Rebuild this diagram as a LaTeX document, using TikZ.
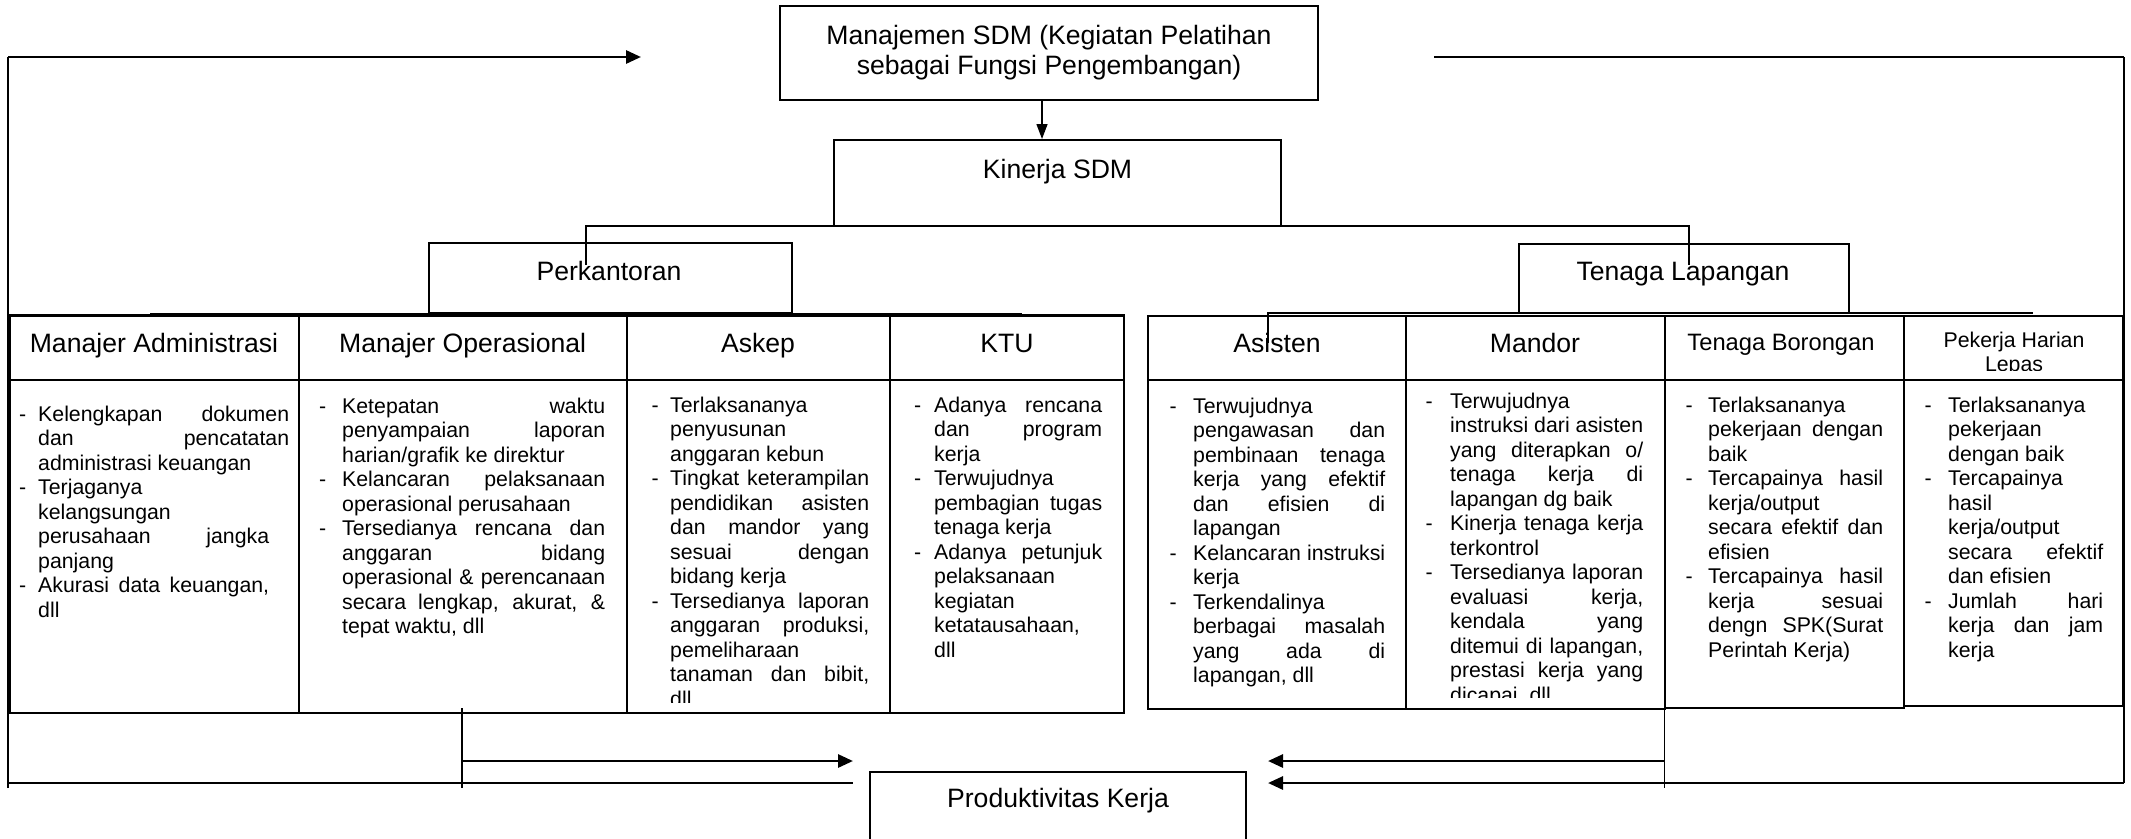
\documentclass[tikz,border=0pt]{standalone}
\usepackage{fontspec}
\setmainfont{Liberation Sans}
\usetikzlibrary{arrows.meta,fit}
\newlength\dw \newlength\cw
\newcommand\colset[2]{\global\dw=#1pt\global\cw=#2pt\relax}
\newcommand\setcw[1]{\global\cw=#1pt\relax}
\newcommand\bulN[1]{\makebox[\dw][l]{-}#1}
\newcommand\bulJ[1]{\makebox[\dw][l]{-}\makebox[\cw][s]{#1}}
\newcommand\lnJ[1]{\hspace*{\dw}\makebox[\cw][s]{#1}}
\newcommand\lnN[1]{\hspace*{\dw}#1}
\newcommand\fbig{\fontsize{26.6}{30.6}\selectfont}
\newcommand\fmid{\fontsize{23.7}{27}\selectfont}
\newcommand\fbody{\fontsize{21.3}{24.5}\selectfont}
\begin{document}
\begin{tikzpicture}[x=1pt,y=-1pt,
  box/.style={draw,line width=2pt,inner sep=0pt},
  cell/.style={draw,line width=2pt,inner sep=0pt},
  lnk/.style={line width=2.2pt},
  thinln/.style={line width=1.4pt},
  fb/.style={line width=2.8pt},
  tip/.style={-{Triangle[length=15pt,width=13pt]}},
  big/.style={font=\fbig,inner sep=0pt,anchor=base},
  col/.style={font=\fbody,inner sep=0pt,anchor=base west,align=left},
]
\useasboundingbox (0,0) rectangle (2131,838);
\clip (0,0) rectangle (2131,838);

% ---------- main boxes ----------
\node[box,fit={(780,6) (1318,100)}] (mgmt) {};
\node[big] (mgmt-t1) at (1049,44) {Manajemen SDM (Kegiatan Pelatihan};
\node[big] (mgmt-t2) at (1049,74) {sebagai Fungsi Pengembangan)};

\node[box,fit={(834,140) (1281,225.5)}] (kin) {};
\node[big] (kin-t) at (1057.5,178) {Kinerja SDM};

\node[box,fit={(429,243) (792,313)}] (perk) {};
\node[big] (perk-t) at (609,280) {Perkantoran};

\node[box,fit={(1519,244) (1849,313)}] (tl) {};
\node[big] (tl-t) at (1683,280) {Tenaga Lapangan};

\node[box,fit={(870,772) (1246,870)}] (prod) {};
\node[big] (prod-t) at (1058,807) {Produktivitas Kerja};

% ---------- left table ----------
\node[cell,fit={(9.5,316) (299,380)}] (hAdm) {};
\node[cell,fit={(299,316) (626.5,380)}] (hOps) {};
\node[cell,fit={(626.5,316) (890,380)}] (hAsk) {};
\node[cell,fit={(890,316) (1124,380)}] (hKtu) {};
\node[cell,fit={(9.5,380) (299,713)}] (cAdm) {};
\node[cell,fit={(299,380) (626.5,713)}] (cOps) {};
\node[cell,fit={(626.5,380) (890,713)}] (cAsk) {};
\node[cell,fit={(890,380) (1124,713)}] (cKtu) {};
\draw[line width=2.8pt] (hAdm.north west) -- (hKtu.north east);

\node[big] (hAdm-t) at (154,352) {Manajer Administrasi};
\node[big] (hOps-t) at (462.7,352) {Manajer Operasional};
\node[big] (hAsk-t) at (758,352) {Askep};
\node[big] (hKtu-t) at (1007,352) {KTU};

% ---------- right table ----------
\node[cell,fit={(1148,316) (1406,380)}] (hAsi) {};
\node[cell,fit={(1406,316) (1664.5,380)}] (hMan) {};
\node[cell,fit={(1664.5,316) (1904,380)}] (hTB) {};
\node[cell,fit={(1904,316) (2123,380)}] (hPHL) {};
\node[cell,fit={(1148,380) (1406,709)}] (cAsi) {};
\node[cell,fit={(1406,380) (1664.5,709)}] (cMan) {};
\node[cell,fit={(1664.5,380) (1904,708)}] (cTB) {};
\node[cell,fit={(1904,380) (2123,706)}] (cPHL) {};

\node[big] (hAsi-t) at (1277,352) {Asisten};
\node[big] (hMan-t) at (1535,352) {Mandor};
\node[big,font=\fmid] (hTB-t) at (1781,350) {Tenaga Borongan};
\begin{scope}
\clip (1904,316) rectangle (2123,370);
\node[font=\fbody,inner sep=0pt,anchor=base,align=center] (hPHL-t) at (2014,{347+24.5}) {Pekerja Harian\\Lepas};
\end{scope}

% ---------- body texts (anchor = baseline of the last line) ----------
\colset{19}{251}
\node[col] (bAdm) at (19,{421+8*24.5}) {\bulJ{Kelengkapan dokumen}\\ \lnJ{dan pencatatan}\\ \lnN{administrasi keuangan}\\ \bulN{Terjaganya}\\ \lnN{kelangsungan}\\ \setcw{231}\lnJ{perusahaan jangka}\\ \lnN{panjang}\\ \setcw{231}\bulJ{Akurasi data keuangan,}\\ \lnN{dll}};

\colset{23}{263}
\node[col] (bOps) at (319,{413+9*24.5}) {\bulJ{Ketepatan waktu}\\ \lnJ{penyampaian laporan}\\ \lnN{harian/grafik ke direktur}\\ \bulJ{Kelancaran pelaksanaan}\\ \lnN{operasional perusahaan}\\ \bulJ{Tersedianya rencana dan}\\ \lnJ{anggaran bidang}\\ \lnJ{operasional \& perencanaan}\\ \lnJ{secara lengkap, akurat, \&}\\ \lnN{tepat waktu, dll}};

\colset{18.5}{199}
\begin{scope}
\clip (626.5,380) rectangle (890,702);
\node[col] (bAsk) at (651.5,{412+12*24.5}) {\bulN{Terlaksananya}\\ \lnN{penyusunan}\\ \lnN{anggaran kebun}\\ \bulJ{Tingkat keterampilan}\\ \lnJ{pendidikan asisten}\\ \lnJ{dan mandor yang}\\ \lnJ{sesuai dengan}\\ \lnN{bidang kerja}\\ \bulJ{Tersedianya laporan}\\ \lnJ{anggaran produksi,}\\ \lnN{pemeliharaan}\\ \lnJ{tanaman dan bibit,}\\ \lnN{dll}};
\end{scope}

\colset{20}{168}
\node[col] (bKtu) at (914,{412+10*24.5}) {\bulJ{Adanya rencana}\\ \lnJ{dan program}\\ \lnN{kerja}\\ \bulN{Terwujudnya}\\ \lnJ{pembagian tugas}\\ \lnN{tenaga kerja}\\ \bulJ{Adanya petunjuk}\\ \lnN{pelaksanaan}\\ \lnN{kegiatan}\\ \lnN{ketatausahaan,}\\ \lnN{dll}};

\colset{23.5}{192}
\node[col] (bAsi) at (1169.5,{413+11*24.5}) {\bulN{Terwujudnya}\\ \lnJ{pengawasan dan}\\ \lnJ{pembinaan tenaga}\\ \lnJ{kerja yang efektif}\\ \lnJ{dan efisien di}\\ \lnN{lapangan}\\ \bulJ{Kelancaran instruksi}\\ \lnN{kerja}\\ \bulN{Terkendalinya}\\ \lnJ{berbagai masalah}\\ \lnJ{yang ada di}\\ \lnN{lapangan, dll}};

\colset{24.5}{193}
\begin{scope}
\clip (1406,380) rectangle (1664.5,697);
\node[col] (bMan) at (1425.5,{408+12*24.5}) {\bulN{Terwujudnya}\\ \lnJ{instruksi dari asisten}\\ \lnJ{yang diterapkan o/}\\ \lnJ{tenaga kerja di}\\ \lnN{lapangan dg baik}\\ \bulJ{Kinerja tenaga kerja}\\ \lnN{terkontrol}\\ \bulJ{Tersedianya laporan}\\ \lnJ{evaluasi kerja,}\\ \lnJ{kendala yang}\\ \lnJ{ditemui di lapangan,}\\ \lnJ{prestasi kerja yang}\\ \lnN{dicapai, dll}};
\end{scope}

\colset{22.5}{175}
\node[col] (bTB) at (1685.5,{412+10*24.5}) {\bulN{Terlaksananya}\\ \lnJ{pekerjaan dengan}\\ \lnN{baik}\\ \bulJ{Tercapainya hasil}\\ \lnN{kerja/output}\\ \lnJ{secara efektif dan}\\ \lnN{efisien}\\ \bulJ{Tercapainya hasil}\\ \lnJ{kerja sesuai}\\ \lnJ{dengn SPK(Surat}\\ \lnN{Perintah Kerja)}};

\colset{23.5}{155}
\node[col] (bPHL) at (1924.5,{412+10*24.5}) {\bulN{Terlaksananya}\\ \lnN{pekerjaan}\\ \lnN{dengan baik}\\ \bulN{Tercapainya}\\ \lnN{hasil}\\ \lnN{kerja/output}\\ \lnJ{secara efektif}\\ \lnN{dan efisien}\\ \bulJ{Jumlah hari}\\ \lnJ{kerja dan jam}\\ \lnN{kerja}};

% ---------- connectors ----------
\coordinate (k1) at (1042,0);
\draw[thinln,-{Triangle[length=15pt,width=11pt]}] (mgmt.south -| k1) -- (kin.north -| k1);

\coordinate (kl) at (586,226);
\coordinate (kr) at (1689,226);
\coordinate (perkIn) at (586,265);
\coordinate (tlIn) at (1689,265);
\draw[lnk] (perkIn) -- (kl) -- (kr) -- (tlIn);

\coordinate (barL1) at (150,314);
\coordinate (barL2) at (1022,314);
\draw[lnk] (barL1) -- (barL2);
\coordinate (barR0) at (1268,343);
\coordinate (barR1) at (1268,313);
\coordinate (barR2) at (2033,313);
\draw[lnk] (barR0) -- (barR1) -- (barR2);

% feedback left
\coordinate (fbL0) at (8,788);
\coordinate (fbL1) at (8,57);
\coordinate (fbLtip) at (641,57);
\draw[thinln] (fbL0) -- (fbL1);
\draw[fb,tip] (fbL1) -- (fbLtip);
\coordinate (bl0) at (8,783);
\coordinate (bl1) at (853,783);
\draw[fb] (bl0) -- (bl1);

% feedback right
\coordinate (fbR0) at (1434,57);
\coordinate (fbR1) at (2124,57);
\coordinate (fbR2) at (2124,783);
\coordinate (fbRtip) at (1268,783);
\draw[thinln] (fbR1) -- (fbR2);
\draw[fb] (fbR0) -- (fbR1);
\draw[fb,tip] (fbR2) -- (fbRtip);

% bottom arrows
\coordinate (v1a) at (462,708);
\coordinate (v1b) at (462,788);
\coordinate (v1m) at (462,761);
\coordinate (v1tip) at (853,761);
\draw[thinln] (v1a) -- (v1b);
\draw[fb,tip] (v1m) -- (v1tip);

\coordinate (v2a) at (1664.5,709);
\coordinate (v2b) at (1664.5,788);
\coordinate (v2m) at (1664.5,761);
\coordinate (v2tip) at (1268,761);
\draw[thinln] (v2a) -- (v2b);
\draw[fb,tip] (v2m) -- (v2tip);
\end{tikzpicture}
\end{document}
